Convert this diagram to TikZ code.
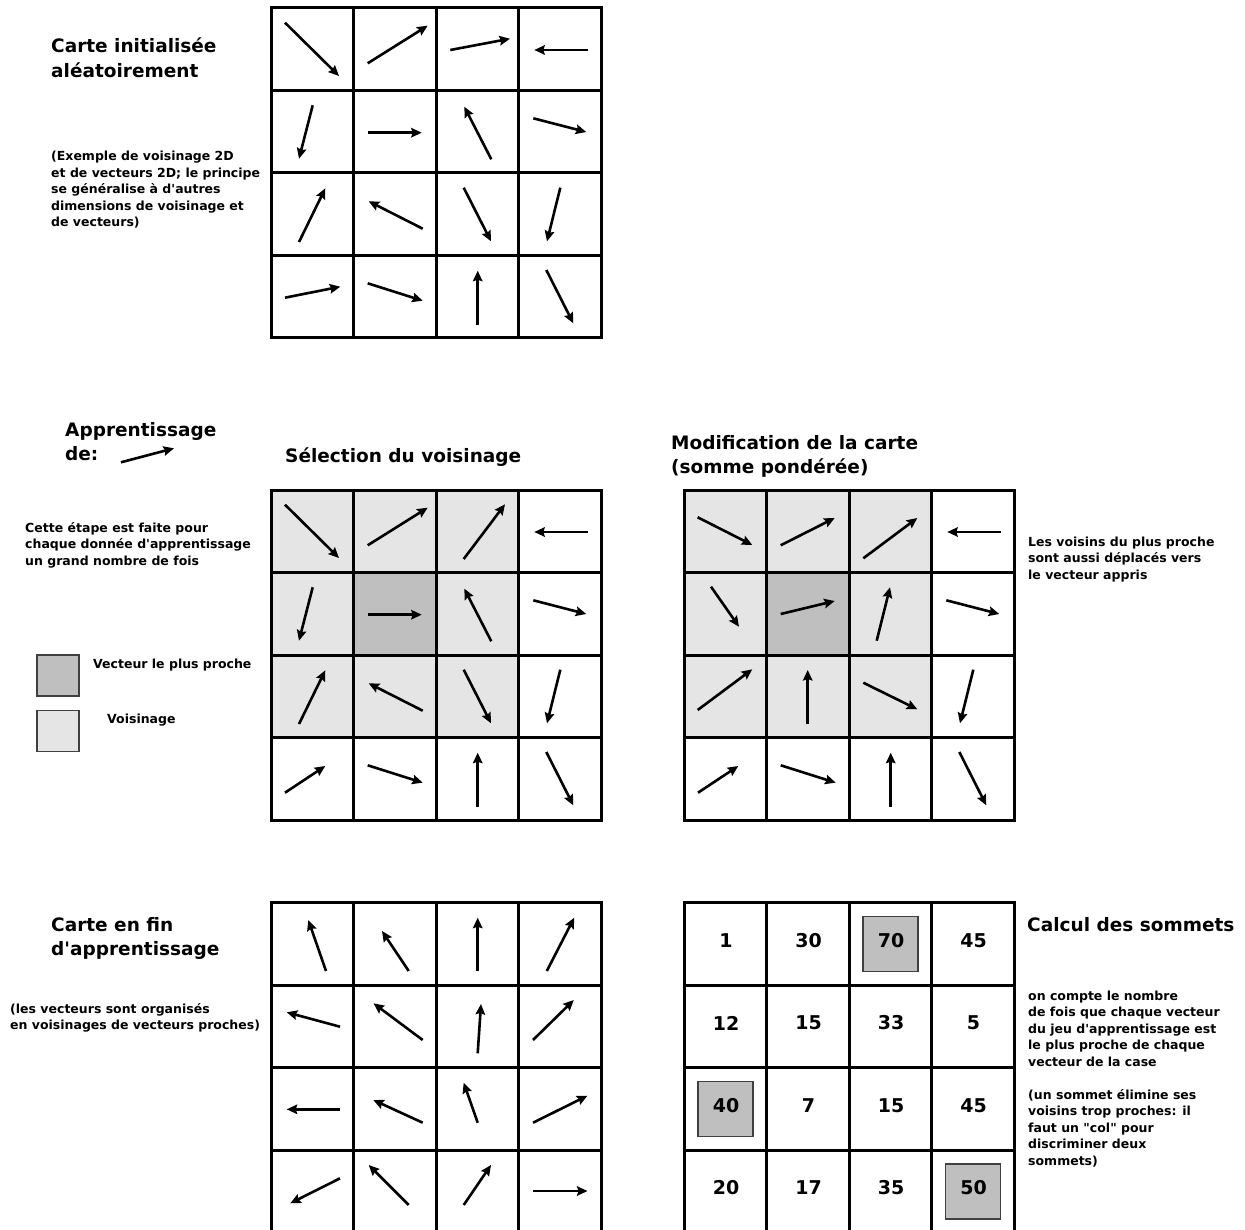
\documentclass[tikz,border=0pt]{standalone}
\usepackage{fontspec}
\setmainfont{DejaVu Sans}[Ligatures=TeXOff]
\usetikzlibrary{arrows.meta}
\definecolor{nearcell}{RGB}{191,191,191}
\definecolor{voiscell}{RGB}{229,229,229}
\definecolor{boxline}{RGB}{64,64,64}
% one vector inside cell (col,row) of the current map
\newcommand{\cellvec}[6]{\draw[vec] (82.5*#1+#3, 82.5*#2+#4) -- (82.5*#1+#5, 82.5*#2+#6);}
% 4x4 map frame
\newcommand{\mapframe}{%
  \draw[gridline] (0,0) rectangle (330,330);
  \foreach \k in {1,2,3} {
    \draw[gridline] (82.5*\k,0) -- (82.5*\k,330);
    \draw[gridline] (0,82.5*\k) -- (330,82.5*\k);
  }}
\newcommand{\fillcell}[3]{\fill[#3] (82.5*#1,82.5*#2) rectangle ++(82.5,82.5);}
\begin{document}
\begin{tikzpicture}[
  x=1pt, y=-1pt,
  every node/.style={inner sep=0pt},
  titre/.style={anchor=west, align=left, font=\fontsize{18.5}{24.5}\selectfont\bfseries},
  note/.style={anchor=west, align=left, font=\fontsize{12.5}{16.5}\selectfont\bfseries},
  nombre/.style={font=\fontsize{19}{23}\selectfont\bfseries},
  sommet/.style={draw=boxline, line width=1.3pt, fill=nearcell, minimum size=55pt},
  legbox/.style={draw=boxline, line width=1.3pt, minimum width=42pt, minimum height=41pt},
  gridline/.style={line width=3pt, line join=miter},
  vec/.style={line width=2.6pt, -{Stealth[length=10.5pt,width=9.5pt,inset=1.5pt]}}
]
\useasboundingbox (0,0) rectangle (1245,1230);

% texts
\node[titre] (tinit) at (51,57.5) {Carte initialisée\\aléatoirement};
\node[note] (texemple) at (51,190) {(Exemple de voisinage 2D\\et de vecteurs 2D; le principe\\se généralise à d'autres\\dimensions de voisinage et\\de vecteurs)};
\node[titre] (tapp) at (65,441.5) {Apprentissage\\de:};
\draw[vec] (121,462.3) -- (174,448.3);
\node[titre] (tsel) at (285,457.5) {Sélection du voisinage};
\node[titre] (tmod) at (671,456.5) {Modification de la carte\\(somme pondérée)};
\node[note] (tetape) at (25,545) {Cette étape est faite pour\\chaque donnée d'apprentissage\\un grand nombre de fois};
\node[legbox, fill=nearcell] (lnear) at (58,675.5) {};
\node[legbox, fill=voiscell] (lvois) at (58,731) {};
\node[note] (lneart) at (93,665.5) {Vecteur le plus proche};
\node[note] (lvoist) at (107,720.5) {Voisinage};
\node[note] (tdepl) at (1028,559.5) {Les voisins du plus proche\\sont aussi déplacés vers\\le vecteur appris};
\node[titre] (tfin) at (51,938.5) {Carte en fin\\d'apprentissage};
\node[note] (torg) at (10,1018) {(les vecteurs sont organisés\\en voisinages de vecteurs proches)};
\node[titre] (tcalc) at (1027,925) {Calcul des sommets};
\node[note] (tcompte) at (1028,1079) {on compte le nombre\\de fois que chaque vecteur\\du jeu d'apprentissage est\\le plus proche de chaque\\vecteur de la case\\[16.5pt](un sommet élimine ses\\voisins trop proches: il\\faut un "col" pour\\discriminer deux\\sommets)};

% random initial map
\begin{scope}[shift={(271,8)}]
  \mapframe
  \cellvec{0}{0}{14}{14.7}{68}{68}
  \cellvec{1}{0}{14.2}{55.3}{74.2}{17.7}
  \cellvec{2}{0}{14.3}{42}{74}{30.7}
  \cellvec{3}{0}{69.2}{42}{15.8}{42}
  \cellvec{0}{1}{41.7}{14.8}{28}{68.2}
  \cellvec{1}{1}{14.2}{42.2}{68.2}{42.2}
  \cellvec{2}{1}{55.3}{68.8}{28.3}{16.2}
  \cellvec{3}{1}{14.8}{27.8}{67.8}{41.5}
  \cellvec{0}{2}{28}{69}{54.3}{15.3}
  \cellvec{1}{2}{69.2}{55.7}{15.2}{28.3}
  \cellvec{2}{2}{27.7}{14.7}{55}{68.3}
  \cellvec{3}{2}{41.8}{14.7}{28.5}{68.3}
  \cellvec{0}{3}{14}{42.2}{69.3}{31.2}
  \cellvec{1}{3}{14.2}{27.8}{69.2}{45.2}
  \cellvec{2}{3}{41.7}{69.5}{41.7}{15.2}
  \cellvec{3}{3}{27.8}{14.5}{54.8}{67.8}
\end{scope}

% neighbourhood selection
\begin{scope}[shift={(271,490)}]
  \foreach \c/\r in {0/0,1/0,2/0,0/1,2/1,0/2,1/2,2/2} {\fillcell{\c}{\r}{voiscell}}
  \fillcell{1}{1}{nearcell}
  \mapframe
  \cellvec{0}{0}{14}{14.7}{68}{68}
  \cellvec{1}{0}{14.2}{55.3}{74.2}{17.7}
  \cellvec{2}{0}{27.7}{69}{69}{14.3}
  \cellvec{3}{0}{69.2}{42}{15.8}{42}
  \cellvec{0}{1}{41.7}{14.8}{28}{68.2}
  \cellvec{1}{1}{14.2}{42.2}{68.2}{42.2}
  \cellvec{2}{1}{55.3}{68.8}{28.3}{16.2}
  \cellvec{3}{1}{14.8}{27.8}{67.8}{41.5}
  \cellvec{0}{2}{28}{69}{54.3}{15.3}
  \cellvec{1}{2}{69.2}{55.7}{15.2}{28.3}
  \cellvec{2}{2}{27.7}{14.7}{55}{68.3}
  \cellvec{3}{2}{41.8}{14.7}{28.5}{68.3}
  \cellvec{0}{3}{14}{55.2}{54.3}{28.5}
  \cellvec{1}{3}{14.2}{27.8}{69.2}{45.2}
  \cellvec{2}{3}{41.7}{69.5}{41.7}{15.2}
  \cellvec{3}{3}{27.8}{14.5}{54.8}{67.8}
\end{scope}

% modified map
\begin{scope}[shift={(684,490)}]
  \foreach \c/\r in {0/0,1/0,2/0,0/1,2/1,0/2,1/2,2/2} {\fillcell{\c}{\r}{voiscell}}
  \fillcell{1}{1}{nearcell}
  \mapframe
  \cellvec{0}{0}{13.7}{27.3}{68.3}{55}
  \cellvec{1}{0}{14.2}{55.3}{68.2}{28}
  \cellvec{2}{0}{14.3}{68.3}{68.3}{28}
  \cellvec{3}{0}{69.2}{42}{15.8}{42}
  \cellvec{0}{1}{27}{14.2}{55}{54.2}
  \cellvec{1}{1}{14.2}{41.5}{68.2}{28.5}
  \cellvec{2}{1}{27.7}{68.2}{41}{14.8}
  \cellvec{3}{1}{14.8}{27.8}{67.8}{41.5}
  \cellvec{0}{2}{13.7}{55}{68.3}{14.3}
  \cellvec{1}{2}{41.2}{69}{41.2}{15}
  \cellvec{2}{2}{14.3}{27.7}{68.3}{54.3}
  \cellvec{3}{2}{41.8}{14.7}{28.5}{68.3}
  \cellvec{0}{3}{14}{55.2}{54.3}{28.5}
  \cellvec{1}{3}{14.2}{27.8}{69.2}{45.2}
  \cellvec{2}{3}{41.7}{69.5}{41.7}{15.2}
  \cellvec{3}{3}{27.8}{14.5}{54.8}{67.8}
\end{scope}

% trained map
\begin{scope}[shift={(271,902.5)}]
  \mapframe
  \cellvec{0}{0}{55}{68.5}{37.3}{17.5}
  \cellvec{1}{0}{55.2}{68.5}{28.5}{28.5}
  \cellvec{2}{0}{41.7}{68.5}{41.7}{15.2}
  \cellvec{3}{0}{28.3}{68.5}{55.7}{15.2}
  \cellvec{0}{1}{69}{41.7}{15.7}{27.3}
  \cellvec{1}{1}{69.2}{55}{20}{18.3}
  \cellvec{2}{1}{41.7}{68.3}{45}{19}
  \cellvec{3}{1}{14.5}{55}{55.3}{15}
  \cellvec{0}{2}{69}{41.8}{15.7}{41.8}
  \cellvec{1}{2}{69.2}{55.2}{19.8}{32.5}
  \cellvec{2}{2}{41.7}{55.2}{27.7}{15.2}
  \cellvec{3}{2}{14.5}{55.2}{69}{28.2}
  \cellvec{0}{3}{69}{28.3}{19.3}{53.3}
  \cellvec{1}{3}{55.2}{55}{15.2}{15}
  \cellvec{2}{3}{27.7}{55}{55}{15}
  \cellvec{3}{3}{14.5}{41}{69}{41}
\end{scope}

% peak counts
\begin{scope}[shift={(684,902.5)}]
  \node[sommet] (s70) at (82.5*2+41.5,41.5) {};
  \node[sommet] (s40) at (41.5,82.5*2+41.5) {};
  \node[sommet] (s50) at (82.5*3+41.5,82.5*3+41.5) {};
  \mapframe
  \foreach \v [count=\i from 0] in {1,30,70,45,12,15,33,5,40,7,15,45,20,17,35,50} {
    \pgfmathtruncatemacro{\c}{mod(\i,4)}
    \pgfmathtruncatemacro{\r}{div(\i,4)}
    \node[nombre] (n\i) at (82.5*\c+42, 82.5*\r+38) {\v};
  }
\end{scope}
\end{tikzpicture}
\end{document}
